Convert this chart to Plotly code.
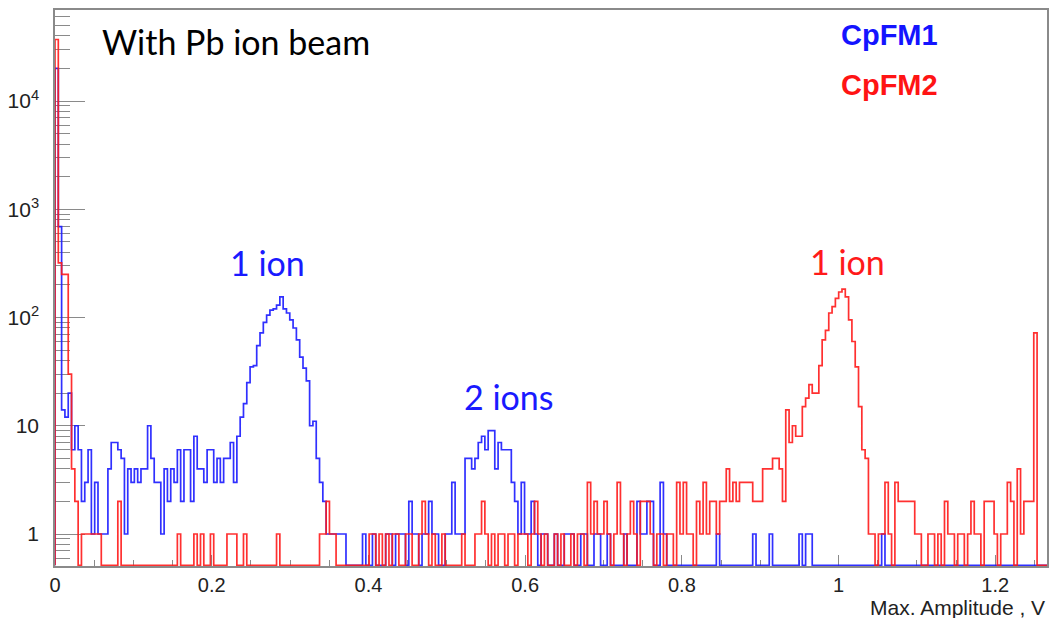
import numpy as np
import plotly.graph_objects as go

# Histogram binning (Max. Amplitude, V)
X_MIN, X_MAX = 0.0, 1.266
N_BINS = 300
Y_LOG_MIN, Y_LOG_MAX = -0.2956, 4.8406   # log10 range of the count axis

# Counts per bin, CpFM1
cpfm1_counts = [
    20000, 690, 14, 12, 20, 6, 10, 6, 2, 3, 6, 1, 3, 1, 1, 1, 4, 7, 7, 6,
    5, 1, 4, 3, 4, 3, 4, 4, 10, 5, 3, 3, 1, 4, 2, 4, 3, 6, 2, 6,
    6, 2, 8, 4, 4, 3, 6, 6, 3, 5, 3, 5, 5, 7, 3, 8, 12, 16, 25, 35,
    36, 55, 72, 90, 105, 117, 120, 130, 155, 120, 110, 95, 80, 62, 43, 34, 26, 10, 11, 5,
    3, 2, 1, 1, 1, 1, 1, 1, 0, 0, 0, 0, 0, 1, 0, 0, 1, 0, 0, 0,
    1, 1, 0, 1, 1, 1, 0, 2, 1, 1, 0, 1, 1, 2, 1, 1, 0, 0, 1, 1,
    3, 1, 1, 1, 5, 5, 4, 5, 7, 8, 6, 9, 9, 4, 7, 6, 6, 6, 3, 2,
    1, 3, 1, 1, 2, 1, 0, 1, 1, 0, 0, 1, 0, 0, 1, 1, 1, 0, 0, 1,
    1, 0, 0, 1, 1, 0, 0, 1, 0, 0, 0, 0, 1, 0, 0, 0, 2, 1, 1, 2,
    2, 0, 0, 3, 1, 0, 0, 0, 0, 0, 0, 0, 0, 0, 0, 0, 0, 0, 0, 0,
    1, 0, 0, 0, 0, 0, 0, 0, 0, 0, 0, 1, 0, 0, 0, 0, 1, 0, 0, 0,
    0, 0, 0, 0, 0, 1, 0, 1, 1, 0, 0, 0, 0, 0, 0, 0, 0, 0, 0, 0,
    0, 0, 0, 0, 0, 0, 0, 0, 0, 0, 1, 0, 0, 0, 0, 0, 0, 0, 0, 0,
    0, 0, 0, 0, 0, 0, 0, 0, 0, 0, 0, 0, 0, 0, 0, 0, 0, 0, 0, 0,
    0, 0, 0, 0, 0, 0, 0, 0, 0, 0, 0, 0, 0, 0, 0, 0, 0, 0, 0, 0,
]

# Counts per bin, CpFM2
cpfm2_counts = [
    37000, 320, 250, 250, 30, 4, 2, 0, 1, 1, 1, 1, 1, 1, 0, 0, 0, 0, 0, 2,
    0, 0, 0, 0, 0, 0, 0, 0, 0, 0, 0, 0, 0, 0, 0, 0, 0, 1, 0, 0,
    0, 0, 1, 0, 1, 0, 0, 1, 0, 0, 0, 0, 1, 1, 1, 0, 0, 1, 0, 0,
    0, 0, 0, 0, 0, 0, 0, 1, 0, 0, 0, 0, 0, 0, 0, 0, 0, 0, 0, 0,
    1, 1, 2, 1, 1, 0, 0, 0, 0, 0, 0, 0, 0, 0, 0, 1, 1, 0, 1, 0,
    1, 0, 1, 1, 0, 0, 1, 1, 0, 0, 1, 2, 1, 0, 1, 0, 0, 1, 0, 0,
    0, 0, 0, 1, 0, 0, 0, 1, 1, 2, 1, 0, 1, 0, 1, 1, 0, 1, 1, 0,
    1, 1, 1, 0, 1, 2, 1, 0, 1, 0, 0, 1, 0, 1, 0, 0, 1, 0, 1, 1,
    0, 3, 1, 2, 1, 1, 2, 1, 0, 1, 3, 1, 0, 1, 2, 1, 0, 2, 2, 2,
    1, 0, 1, 1, 0, 1, 1, 0, 3, 1, 3, 1, 1, 0, 2, 1, 3, 1, 2, 2,
    1, 2, 2, 4, 2, 3, 2, 3, 3, 3, 3, 2, 2, 2, 4, 4, 4, 5, 5, 4,
    2, 14, 7, 10, 8, 8, 15, 18, 24, 20, 20, 36, 62, 76, 110, 126, 150, 172, 183, 155,
    95, 60, 35, 15, 6, 5, 1, 1, 0, 1, 1, 3, 1, 0, 3, 2, 2, 2, 2, 2,
    1, 1, 0, 0, 1, 1, 0, 1, 0, 2, 1, 1, 0, 1, 1, 0, 1, 2, 1, 1,
    0, 2, 2, 2, 1, 0, 1, 1, 3, 2, 0, 4, 1, 2, 2, 2, 72, 0, 0, 0,
]

x_tick_vals = [0, 0.2, 0.4, 0.6, 0.8, 1.0, 1.2]
x_tick_text = ["0", "0.2", "0.4", "0.6", "0.8", "1", "1.2"]
y_tick_vals = [1, 10, 100, 1000, 10000]
y_tick_text = ["1", "10", "10<sup>2</sup>", "10<sup>3</sup>", "10<sup>4</sup>"]

edges = np.linspace(X_MIN, X_MAX, N_BINS + 1)
# empty bins are drawn on the lower edge of the log axis, as ROOT does
floor_draw = 10 ** (Y_LOG_MIN + 0.007)


def step_outline(counts):
    """Histogram outline: rise at the first edge, fall back at the last edge."""
    c = np.asarray(counts, dtype=float)
    c = np.where(c > 0, c, floor_draw)
    xs = np.concatenate([[edges[0]], edges])
    ys = np.concatenate([[floor_draw], c, [floor_draw]])
    return xs, ys


fig = go.Figure()
for counts, colour in [(cpfm1_counts, "rgba(25,25,255,0.9)"),
                       (cpfm2_counts, "rgba(255,25,25,0.9)")]:
    xs, ys = step_outline(counts)
    fig.add_trace(go.Scatter(x=xs, y=ys, mode="lines", line_shape="hv",
                             line=dict(color=colour, width=1.7),
                             hoverinfo="skip", showlegend=False))

axis_grey = "#8a8a8a"
root_font = "Liberation Sans, Arial, sans-serif"
tick_font = dict(family=root_font, size=20, color="#222222")

x_minor = [round(v, 2) for v in np.arange(0.05, X_MAX, 0.05) if round(v, 2) not in x_tick_vals]
y_minor = [m * 10.0 ** e for e in range(-1, 5) for m in range(2, 10)
           if Y_LOG_MIN < np.log10(m * 10.0 ** e) < Y_LOG_MAX]

fig.update_xaxes(range=[X_MIN, X_MAX], tickmode="array", tickvals=x_tick_vals,
                 ticktext=x_tick_text, ticks="inside", ticklen=11, tickwidth=1,
                 tickcolor=axis_grey, showline=True, linecolor=axis_grey, linewidth=1.5,
                 mirror=True, showgrid=False, zeroline=False, tickfont=tick_font,
                 layer="below traces",
                 minor=dict(tickmode="array", tickvals=x_minor, ticks="inside",
                            ticklen=6, tickcolor=axis_grey, showgrid=False))
fig.update_yaxes(type="log", range=[Y_LOG_MIN, Y_LOG_MAX], tickmode="array",
                 tickvals=y_tick_vals, ticktext=y_tick_text, ticks="inside",
                 ticklen=30, tickwidth=1, tickcolor=axis_grey, showline=True,
                 linecolor=axis_grey, linewidth=1.5, mirror=True, showgrid=False,
                 zeroline=False, tickfont=dict(family=root_font, size=21, color="#222222"),
                 ticklabelstandoff=10, layer="below traces",
                 minor=dict(tickmode="array", tickvals=y_minor, ticks="inside",
                            ticklen=15, tickcolor=axis_grey, showgrid=False))

note_font = "Lato, Open Sans, sans-serif"
fig.add_annotation(text="With Pb ion beam", xref="paper", yref="paper",
                   x=0.0453, y=0.943, xanchor="left", yanchor="middle", showarrow=False,
                   font=dict(family=note_font, size=34, color="#000000"))
fig.add_annotation(text="<b>CpFM1</b>", xref="paper", yref="paper",
                   x=0.790, y=0.955, xanchor="left", yanchor="middle", showarrow=False,
                   font=dict(family=root_font, size=29, color="#1414ff"))
fig.add_annotation(text="<b>CpFM2</b>", xref="paper", yref="paper",
                   x=0.790, y=0.865, xanchor="left", yanchor="middle", showarrow=False,
                   font=dict(family=root_font, size=29, color="#ff1414"))
fig.add_annotation(text="1 ion", xref="paper", yref="paper",
                   x=0.2143, y=0.545, xanchor="center", yanchor="middle", showarrow=False,
                   font=dict(family=note_font, size=34, color="#1a1aff"))
fig.add_annotation(text="2 ions", xref="paper", yref="paper",
                   x=0.4577, y=0.304, xanchor="center", yanchor="middle", showarrow=False,
                   font=dict(family=note_font, size=34, color="#1a1aff"))
fig.add_annotation(text="1 ion", xref="paper", yref="paper",
                   x=0.7988, y=0.547, xanchor="center", yanchor="middle", showarrow=False,
                   font=dict(family=note_font, size=34, color="#ff1a1a"))
fig.add_annotation(text="Max. Amplitude , V", xref="paper", yref="paper",
                   x=1.0, y=-0.0755, xanchor="right", yanchor="middle", showarrow=False,
                   font=dict(family=root_font, size=21, color="#222222"))

fig.update_layout(width=1053, height=618, margin=dict(l=55, r=4, t=10, b=52),
                  paper_bgcolor="white", plot_bgcolor="white", showlegend=False)

fig.write_html("out.html")
